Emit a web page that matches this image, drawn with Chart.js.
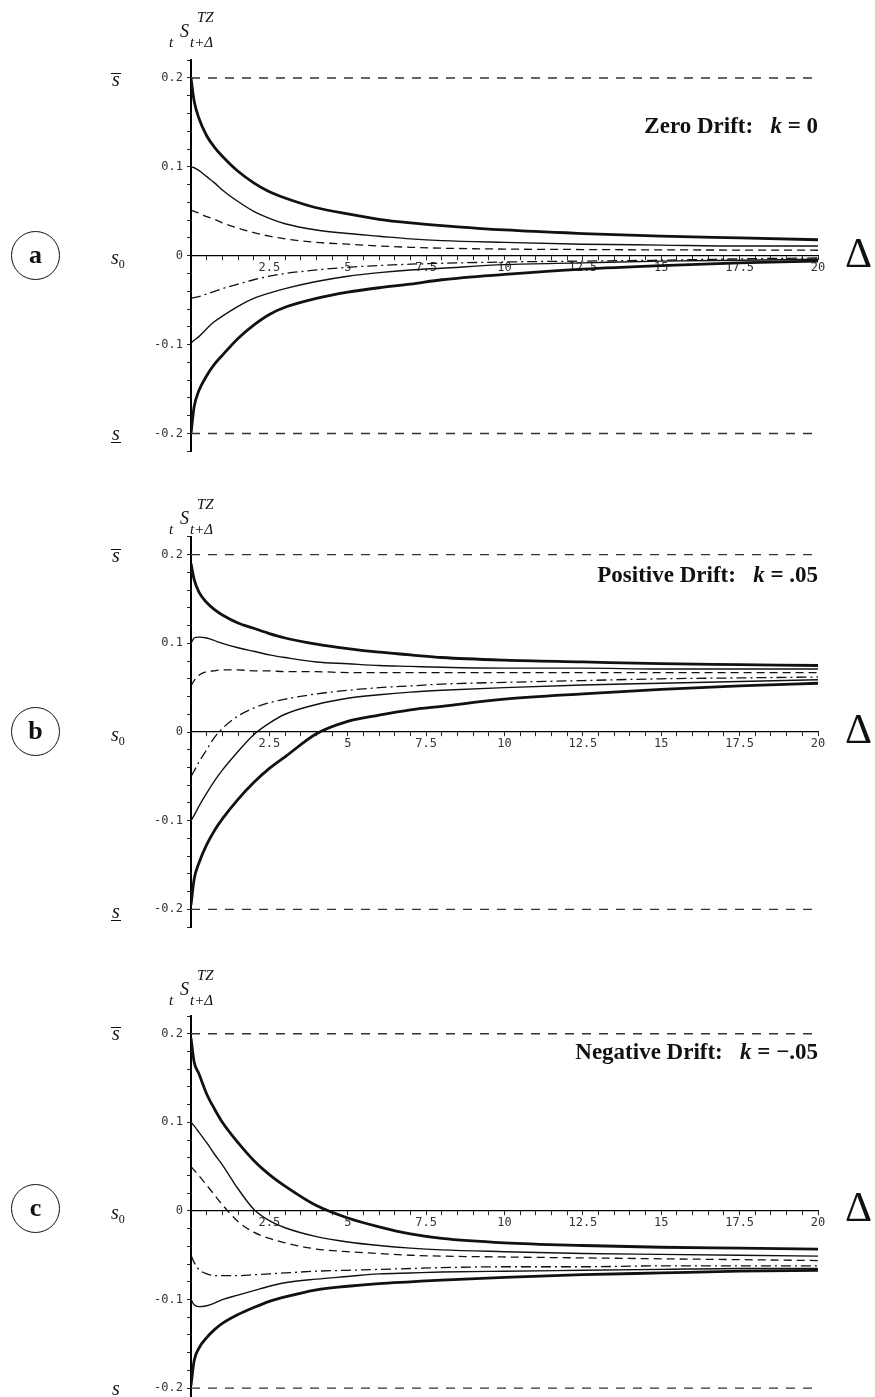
<!DOCTYPE html>
<html>
<head>
<meta charset="utf-8">
<script src="https://cdn.jsdelivr.net/npm/chart.js@4.4.1/dist/chart.umd.min.js"></script>
<style>
  html, body { margin: 0; padding: 0; background: #fff; }
  body { position: relative; width: 875px; height: 1397px; overflow: hidden; font-family: "Liberation Serif", serif; color: #111; }
  canvas { position: absolute; left: 0; }
  .circ { position: absolute; left: 11px; width: 47px; height: 47px; margin-top: -25px; border: 1.6px solid #111;
          border-radius: 50%; font: bold 26px "Liberation Serif", serif; text-align: center; line-height: 45px; }
  .sl { position: absolute; left: 111px; font: italic 20px "Liberation Serif", serif; line-height: 1; transform: translateY(-50%); }
  .sl sub { font-size: 12px; vertical-align: -4px; font-style: normal; }
  .ov { display: inline-block; border-top: 1.4px solid #111; line-height: 11px; padding: 0 1px; }
  .un { display: inline-block; border-bottom: 1.4px solid #111; line-height: 15px; padding: 0 1px 1px 1px; }
  .dl { position: absolute; left: 845px; font: 42px "Liberation Serif", serif; line-height: 1; transform: translateY(-56%); }
  .ttl { position: absolute; right: 57px; font: bold 23px "Liberation Serif", serif; line-height: 1; white-space: pre; transform: translateY(-50%); }
  .ylab { position: absolute; left: 165px; width: 60px; height: 45px; font: italic 15px "Liberation Serif", serif; }
  .ylab span { position: absolute; line-height: 1; }
  .ylab .big { font-size: 18px; }
</style>
</head>
<body>

<canvas id="chartA" width="875" height="440" style="top:40px"></canvas>
<canvas id="chartB" width="875" height="460" style="top:500px"></canvas>
<canvas id="chartC" width="875" height="417" style="top:980px"></canvas>

<!-- panel a -->
<div class="ylab" style="top:10px"><span style="left:4px;top:25px">t</span><span class="big" style="left:15px;top:12px">S</span><span style="left:32px;top:0">TZ</span><span style="left:25px;top:25px">t+Δ</span></div>
<div class="circ" style="top:256px">a</div>
<div class="sl" style="top:79px"><span class="ov">s</span></div>
<div class="sl" style="top:258px">s<sub>0</sub></div>
<div class="sl" style="top:433px"><span class="un">s</span></div>
<div class="ttl" style="top:125px">Zero Drift:   <i>k</i> = 0</div>
<div class="dl" style="top:256px">Δ</div>

<!-- panel b -->
<div class="ylab" style="top:497px"><span style="left:4px;top:25px">t</span><span class="big" style="left:15px;top:12px">S</span><span style="left:32px;top:0">TZ</span><span style="left:25px;top:25px">t+Δ</span></div>
<div class="circ" style="top:732px">b</div>
<div class="sl" style="top:555px"><span class="ov">s</span></div>
<div class="sl" style="top:735px">s<sub>0</sub></div>
<div class="sl" style="top:911px"><span class="un">s</span></div>
<div class="ttl" style="top:574px">Positive Drift:   <i>k</i> = .05</div>
<div class="dl" style="top:732px">Δ</div>

<!-- panel c -->
<div class="ylab" style="top:968px"><span style="left:4px;top:25px">t</span><span class="big" style="left:15px;top:12px">S</span><span style="left:32px;top:0">TZ</span><span style="left:25px;top:25px">t+Δ</span></div>
<div class="circ" style="top:1209px">c</div>
<div class="sl" style="top:1033px"><span class="ov">s</span></div>
<div class="sl" style="top:1213px">s<sub>0</sub></div>
<div class="sl" style="top:1388px"><span class="un">s</span></div>
<div class="ttl" style="top:1051px">Negative Drift:   <i>k</i> = −.05</div>
<div class="dl" style="top:1210px">Δ</div>

<script>
// horizon values (Delta) shared by every curve
const deltas = [0, 0.1, 0.25, 0.5, 0.75, 1, 1.5, 2, 2.5, 3, 4, 5, 6, 7, 8, 10, 12.5, 15, 17.5, 20];

// band edges
const sUpper = 0.2;
const sLower = -0.2;

// tick labels
const yTickValues = [0.2, 0.1, 0, -0.1, -0.2];
const xTickValues = [2.5, 5, 7.5, 10, 12.5, 15, 17.5, 20];

// (a) zero drift
const zeroTop20 = [0.200, 0.174, 0.155, 0.135, 0.122, 0.112, 0.095, 0.082, 0.072, 0.065, 0.054, 0.047, 0.041, 0.037, 0.034, 0.029, 0.025, 0.022, 0.020, 0.018];
const zeroTop10 = [0.100, 0.099, 0.096, 0.089, 0.082, 0.074, 0.061, 0.050, 0.042, 0.036, 0.029, 0.025, 0.022, 0.019, 0.017, 0.015, 0.013, 0.012, 0.011, 0.011];
const zeroTop05 = [0.051, 0.050, 0.048, 0.044, 0.041, 0.037, 0.031, 0.026, 0.022, 0.019, 0.015, 0.013, 0.011, 0.0095, 0.0085, 0.0075, 0.007, 0.0066, 0.0064, 0.0062];
const zeroBot05 = [-0.048, -0.047, -0.046, -0.043, -0.040, -0.037, -0.032, -0.027, -0.023, -0.020, -0.016, -0.013, -0.011, -0.0095, -0.0085, -0.007, -0.006, -0.005, -0.0035, -0.0025];
const zeroBot10 = [-0.098, -0.095, -0.091, -0.082, -0.074, -0.068, -0.057, -0.048, -0.042, -0.037, -0.029, -0.023, -0.019, -0.016, -0.014, -0.010, -0.008, -0.006, -0.005, -0.004];
const zeroBot20 = [-0.200, -0.170, -0.152, -0.135, -0.122, -0.112, -0.093, -0.078, -0.066, -0.058, -0.048, -0.041, -0.036, -0.032, -0.027, -0.021, -0.015, -0.011, -0.008, -0.006];

// (b) positive drift
const posTop20 = [0.190, 0.172, 0.158, 0.146, 0.138, 0.132, 0.123, 0.117, 0.111, 0.106, 0.099, 0.094, 0.090, 0.087, 0.084, 0.081, 0.079, 0.077, 0.076, 0.075];
const posTop10 = [0.100, 0.106, 0.107, 0.106, 0.103, 0.100, 0.095, 0.091, 0.087, 0.084, 0.079, 0.077, 0.075, 0.074, 0.073, 0.072, 0.072, 0.071, 0.071, 0.071];
const posTop05 = [0.052, 0.058, 0.064, 0.068, 0.069, 0.070, 0.070, 0.069, 0.069, 0.068, 0.068, 0.067, 0.067, 0.067, 0.067, 0.067, 0.067, 0.067, 0.067, 0.067];
const posBot05 = [-0.050, -0.044, -0.034, -0.020, -0.006, 0.004, 0.018, 0.027, 0.033, 0.037, 0.043, 0.047, 0.050, 0.052, 0.054, 0.056, 0.058, 0.060, 0.061, 0.062];
const posBot10 = [-0.100, -0.094, -0.084, -0.069, -0.055, -0.043, -0.022, -0.003, 0.010, 0.020, 0.031, 0.038, 0.042, 0.045, 0.047, 0.050, 0.053, 0.055, 0.057, 0.059];
const posBot20 = [-0.195, -0.166, -0.148, -0.127, -0.111, -0.098, -0.076, -0.057, -0.041, -0.028, -0.002, 0.012, 0.019, 0.025, 0.029, 0.037, 0.043, 0.048, 0.052, 0.055];

// (c) negative drift
const negTop20 = [0.195, 0.168, 0.155, 0.132, 0.115, 0.100, 0.077, 0.057, 0.041, 0.028, 0.006, -0.008, -0.018, -0.026, -0.031, -0.036, -0.039, -0.041, -0.042, -0.043];
const negTop10 = [0.100, 0.096, 0.089, 0.077, 0.064, 0.052, 0.025, 0.002, -0.011, -0.019, -0.029, -0.035, -0.039, -0.042, -0.044, -0.046, -0.048, -0.049, -0.050, -0.051];
const negTop05 = [0.050, 0.046, 0.040, 0.029, 0.018, 0.007, -0.012, -0.024, -0.031, -0.036, -0.043, -0.046, -0.048, -0.050, -0.051, -0.052, -0.053, -0.054, -0.055, -0.056];
const negBot05 = [-0.050, -0.058, -0.066, -0.071, -0.073, -0.073, -0.073, -0.072, -0.071, -0.070, -0.068, -0.067, -0.066, -0.065, -0.064, -0.063, -0.063, -0.062, -0.062, -0.062];
const negBot10 = [-0.100, -0.106, -0.108, -0.107, -0.104, -0.100, -0.095, -0.090, -0.085, -0.081, -0.077, -0.074, -0.071, -0.070, -0.069, -0.068, -0.067, -0.066, -0.065, -0.065];
const negBot20 = [-0.197, -0.169, -0.155, -0.143, -0.134, -0.127, -0.117, -0.109, -0.102, -0.097, -0.089, -0.085, -0.082, -0.080, -0.078, -0.075, -0.072, -0.070, -0.068, -0.067];

const lineStyles = {
    thick: { borderWidth: 2.8, borderDash: [] },
    thin: { borderWidth: 1.4, borderDash: [] },
    dashed: { borderWidth: 1.3, borderDash: [8, 5] },
    dashdot: { borderWidth: 1.3, borderDash: [10, 4, 2, 4] },
    band: { borderWidth: 1.4, borderDash: [9, 8] },
};

function curve(values, kind) {
    return {
        data: deltas.map((d, i) => ({ x: d, y: values[i] })),
        borderColor: '#111',
        ...lineStyles[kind],
        pointRadius: 0,
        fill: false,
        cubicInterpolationMode: 'monotone',
    };
}

function band(level) {
    return {
        data: [{ x: deltas[0], y: level }, { x: deltas[deltas.length - 1], y: level }],
        borderColor: '#333',
        ...lineStyles.band,
        pointRadius: 0,
        fill: false,
    };
}

function pickLabel(list, v) {
    const hit = list.find(t => Math.abs(t - v) < 1e-6);
    return hit === undefined ? '' : String(hit);
}

const tickFont = { family: 'DejaVu Sans Mono', size: 12 };

function makePanel(id, series, padTop, padBottom, yMin) {
    const ctx = document.getElementById(id).getContext('2d');
    new Chart(ctx, {
        type: 'line',
        data: {
            datasets: [
                band(sUpper),
                band(sLower),
                curve(series[0], 'thick'),
                curve(series[1], 'thin'),
                curve(series[2], 'dashed'),
                curve(series[3], 'dashdot'),
                curve(series[4], 'thin'),
                curve(series[5], 'thick'),
            ],
        },
        options: {
            responsive: false,
            animation: false,
            layout: { padding: { left: 131, right: 57, top: padTop, bottom: padBottom } },
            plugins: { legend: { display: false }, tooltip: { enabled: false } },
            scales: {
                x: {
                    type: 'linear',
                    min: 0,
                    max: 20,
                    position: { y: 0 },
                    afterFit: s => { s.height = 0; s.paddingLeft = 0; s.paddingRight = 0; },
                    ticks: {
                        stepSize: 0.5,
                        autoSkip: false,
                        maxRotation: 0,
                        padding: 1,
                        color: '#333',
                        font: tickFont,
                        callback: v => pickLabel(xTickValues, v),
                    },
                    grid: { drawOnChartArea: false, tickLength: 4, color: '#222' },
                    border: { color: '#000', width: 1.2 },
                },
                y: {
                    type: 'linear',
                    min: yMin,
                    max: 0.22,
                    afterFit: s => { s.width = 60; s.paddingTop = 0; s.paddingBottom = 0; },
                    ticks: {
                        stepSize: 0.02,
                        includeBounds: false,
                        autoSkip: false,
                        padding: 4,
                        color: '#333',
                        font: tickFont,
                        callback: v => pickLabel(yTickValues, v),
                    },
                    grid: { drawOnChartArea: false, tickLength: 4, color: '#222' },
                    border: { color: '#000', width: 2 },
                },
            },
        },
    });
}

makePanel('chartA', [zeroTop20, zeroTop10, zeroTop05, zeroBot05, zeroBot10, zeroBot20], 20.2, 28.7, -0.22);
makePanel('chartB', [posTop20, posTop10, posTop05, posBot05, posBot10, posBot20], 36.9, 32.9, -0.22);
makePanel('chartC', [negTop20, negTop10, negTop05, negBot05, negBot10, negBot20], 36, 0, -0.21);
</script>
</body>
</html>
